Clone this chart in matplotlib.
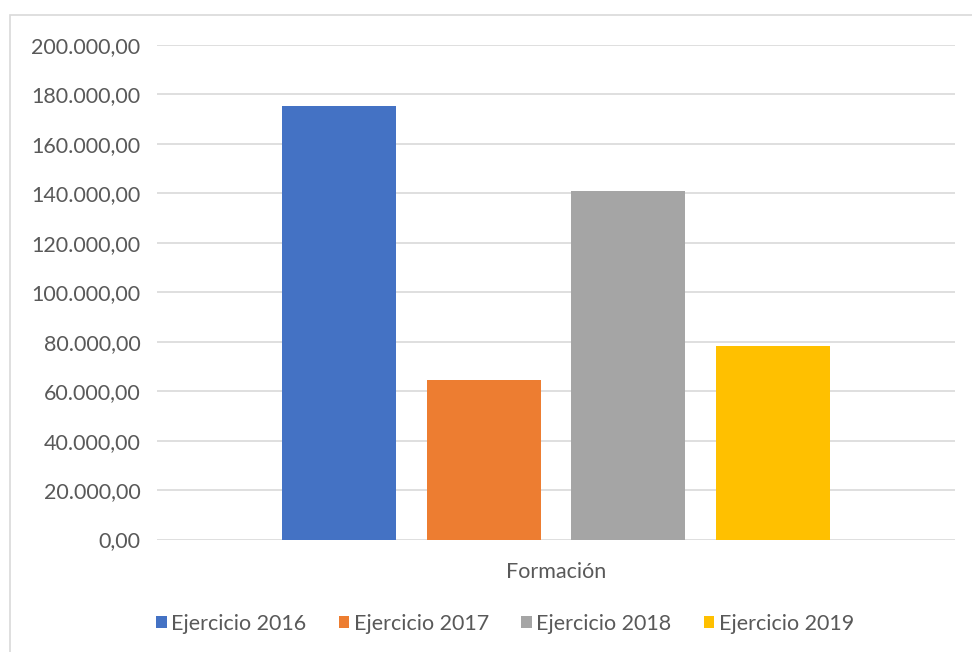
import matplotlib.pyplot as plt
from matplotlib.patches import Rectangle
from matplotlib.ticker import FuncFormatter, MultipleLocator

category = "Formación"
series = ["Ejercicio 2016", "Ejercicio 2017", "Ejercicio 2018", "Ejercicio 2019"]
values = [175300, 64700, 141000, 78400]
colors = ["#4472c4", "#ed7d31", "#a5a5a5", "#ffc000"]

plt.rcParams["font.family"] = ["Lato", "DejaVu Sans"]
TXT = "#595959"


def es_fmt(v, _pos):
    s = f"{v:,.2f}"
    return s.replace(",", "X").replace(".", ",").replace("X", ".")


fig = plt.figure(figsize=(9.72, 6.52), dpi=100)
fig.patches.append(Rectangle((10 / 972, -0.1), 1.2, 1 - 15 / 652 + 0.1,
                             transform=fig.transFigure, fill=False,
                             edgecolor="#d9d9d9", linewidth=1.2))

ax = fig.add_axes([157 / 972, 1 - 539.5 / 652, 798 / 972, 494.5 / 652])
width = 0.143
step = 0.181
for i, (name, v, c) in enumerate(zip(series, values, colors)):
    ax.bar((i - 1.5) * step, v, width=width, color=c, label=name, zorder=3)

ax.set_xlim(-0.5, 0.5)
ax.set_ylim(0, 200000)
ax.yaxis.set_major_locator(MultipleLocator(20000))
ax.yaxis.set_major_formatter(FuncFormatter(es_fmt))
ax.grid(axis="y", color="#d9d9d9", linewidth=1.2, zorder=0)
ax.set_xticks([0])
ax.set_xticklabels([category])
ax.tick_params(axis="both", length=0, labelsize=15.5, colors=TXT)
ax.tick_params(axis="y", pad=12)
ax.tick_params(axis="x", pad=16)
for s in ax.spines.values():
    s.set_visible(False)

fig.legend(loc="center", bbox_to_anchor=(505 / 972, 1 - 624 / 652), ncol=4,
           frameon=False, fontsize=15.5, labelcolor=TXT, handlelength=0.5,
           handleheight=0.5, handletextpad=0.2, columnspacing=1.5)

fig.savefig("out.png", dpi=100, facecolor="white")
